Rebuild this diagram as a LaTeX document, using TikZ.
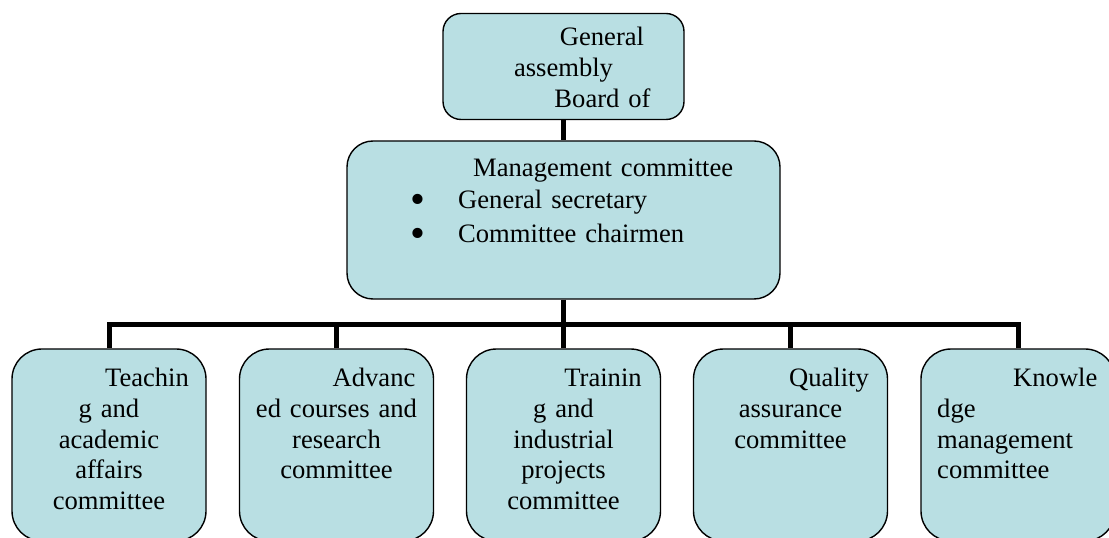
\documentclass[tikz,border=0pt]{standalone}
\usepackage{fontspec}
\setmainfont{Liberation Serif}
\usetikzlibrary{backgrounds}
\definecolor{boxfill}{RGB}{185,223,227}
\newcommand{\bigbul}{\raisebox{-4.6bp}[0pt][0pt]{\scalebox{1.6}{\textbullet}}}
\begin{document}
\begin{tikzpicture}[x=1bp,y=-1bp,
  box/.style={draw=black, line width=1.4bp, fill=boxfill, rectangle, rounded corners=#1, inner sep=0pt},
  bottombox/.style={box=30bp, minimum width=194bp, minimum height=192bp},
  conn/.style={draw=black, line width=5bp},
  txt/.style={inner sep=0pt, font=\fontsize{26.6bp}{30.6bp}\selectfont, align=center, text width=194bp, anchor=base}]
\useasboundingbox (0,0) rectangle (1109,538);
\clip (0,0) rectangle (1109,538);
% boxes
\node[box=18bp, minimum width=241bp, minimum height=106bp] (gen) at (563.5,66.5) {};
\node[box=26bp, minimum width=433bp, minimum height=158bp] (mgmt) at (563.5,220) {};
\node[bottombox] (b1) at (109,445) {};
\node[bottombox] (b2) at (336.5,445) {};
\node[bottombox] (b3) at (563.5,445) {};
\node[bottombox] (b4) at (790.5,445) {};
\node[bottombox] (b5) at (1018,445) {};
% connectors
\coordinate (bus) at (563.5,325);
\begin{scope}[on background layer]
\draw[conn] (gen.south) -- (mgmt.north);
\draw[conn] (mgmt.south) -- (bus);
\draw[conn] (b1.north) |- (bus);
\draw[conn] (b2.north) |- (bus);
\draw[conn] (b3.north) -- (bus);
\draw[conn] (b4.north) |- (bus);
\draw[conn] (b5.north) |- (bus);
\end{scope}
% texts
\node[txt, text width=240bp] (tgen) at (563.5,46) {\hspace*{77bp}General\\assembly\\\hspace*{78bp}Board of};
\node[txt, text width=433bp, align=left, anchor=base west, font=\fontsize{26.6bp}{31.5bp}\selectfont] (tmgmt) at (347,177)
  {\hspace*{126bp}Management committee\\[0.5bp]
   \hspace*{63bp}\makebox[48bp][l]{\bigbul}General secretary\\[2bp]
   \hspace*{63bp}\makebox[48bp][l]{\bigbul}Committee chairmen};
\node[txt] (t1) at (109,387) {\hspace*{76bp}Teachin\\g and\\academic\\affairs\\committee};
\node[txt] (t2) at (336.5,387) {\hspace*{75bp}Advanc\\ed courses and\\research\\committee};
\node[txt] (t3) at (563.5,387) {\hspace*{79bp}Trainin\\g and\\industrial\\projects\\committee};
\node[txt] (t4) at (790.5,387) {\hspace*{77bp}Quality\\assurance\\committee};
\node[txt, text width=170bp, align=left, anchor=base west] (t5) at (937,387) {\hspace*{76bp}Knowle\\dge\\management\\committee};
\end{tikzpicture}
\end{document}
